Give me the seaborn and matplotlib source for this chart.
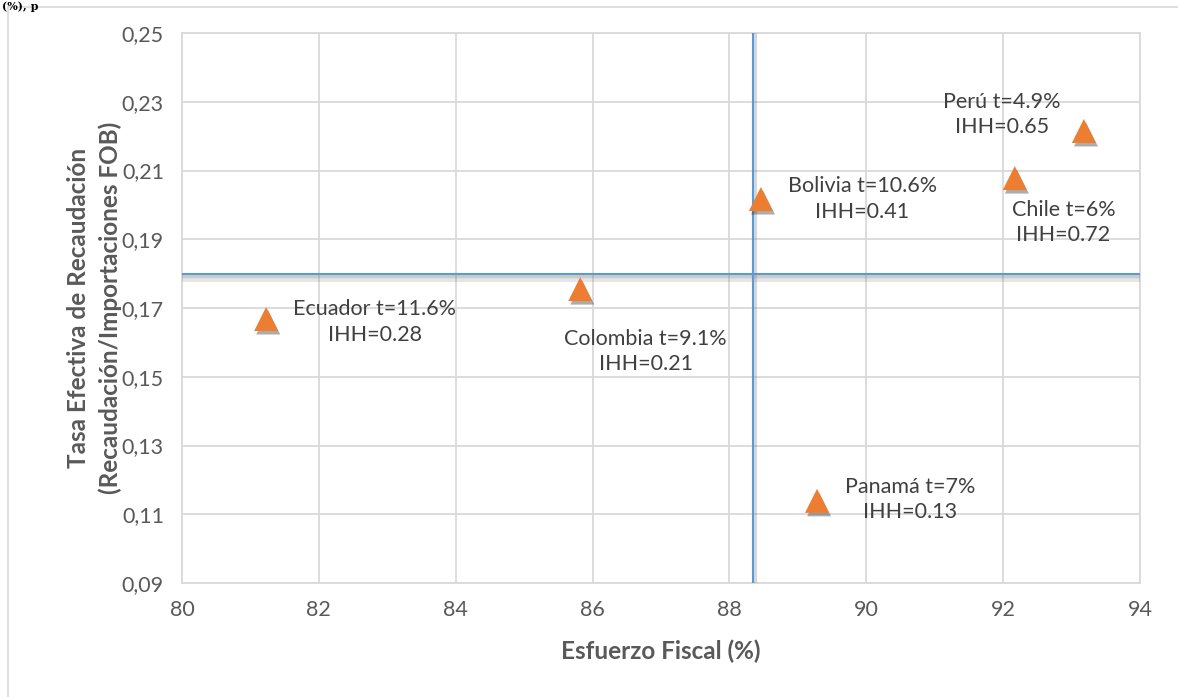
import matplotlib
matplotlib.use("Agg")
import matplotlib.pyplot as plt
import matplotlib.patheffects as pe
from matplotlib.patches import Rectangle
from matplotlib.ticker import FixedLocator, FuncFormatter
import pandas as pd
import seaborn as sns

# Country data: fiscal effort (%) vs effective collection rate
paises = ["Ecuador", "Colombia", "Bolivia", "Chile", "Perú", "Panamá"]
esfuerzo_fiscal = [81.23, 85.82, 88.46, 92.17, 93.18, 89.28]
tasa_efectiva = [0.1668, 0.1755, 0.2017, 0.2078, 0.2215, 0.1139]
etiquetas = [
    "Ecuador t=11.6%\nIHH=0.28",
    "Colombia t=9.1%\nIHH=0.21",
    "Bolivia t=10.6%\nIHH=0.41",
    "Chile t=6%\nIHH=0.72",
    "Perú t=4.9%\nIHH=0.65",
    "Panamá t=7%\nIHH=0.13",
]
# label offsets from each marker (points)
desplazamientos = [(78, -2), (47, -45), (73, 0), (35, -32), (-59, 12), (67, 1)]

# reference lines (averages)
promedio_x = 88.34
promedio_y = 0.18

x_ticks = [80, 82, 84, 86, 88, 90, 92, 94]
y_ticks = [0.09, 0.11, 0.13, 0.15, 0.17, 0.19, 0.21, 0.23, 0.25]

df = pd.DataFrame({"pais": paises, "x": esfuerzo_fiscal, "y": tasa_efectiva})

sns.set_theme(style="white")
plt.rcParams["font.family"] = ["Lato", "DejaVu Sans"]

fig = plt.figure(figsize=(11.78, 6.97), dpi=100)
ax = fig.add_axes([182 / 1178, 1 - 583 / 697, (1140 - 182) / 1178, (583 - 33) / 697])

grid_col = "#D9D9D9"
ax.set_xlim(80, 94)
ax.set_ylim(0.09, 0.25)
ax.xaxis.set_major_locator(FixedLocator(x_ticks))
ax.yaxis.set_major_locator(FixedLocator(y_ticks))
ax.yaxis.set_major_formatter(FuncFormatter(lambda v, p: f"{v:.2f}".replace(".", ",")))
ax.xaxis.set_major_formatter(FuncFormatter(lambda v, p: f"{v:.0f}"))
ax.grid(True, color=grid_col, linewidth=1.3)
for s in ax.spines.values():
    s.set_color(grid_col)
    s.set_linewidth(1.3)
ax.tick_params(axis="x", length=0, labelsize=15.5, labelcolor="#595959", pad=12)
ax.tick_params(axis="y", length=0, labelsize=15.5, labelcolor="#595959", pad=13)

# average lines with a soft shadow
ax.axhline(promedio_y, color="#5B9BD5", linewidth=1.5,
           path_effects=[pe.SimpleLineShadow(offset=(0, -3), shadow_color="#808080", alpha=0.2, linewidth=5),
                         pe.SimpleLineShadow(offset=(0, -2), shadow_color="#808080", alpha=0.25, linewidth=2.5),
                         pe.Normal()],
           zorder=3)
ax.axvline(promedio_x, color="#5B9BD5", linewidth=1.5,
           path_effects=[pe.SimpleLineShadow(offset=(2, -1), shadow_color="#808080", alpha=0.3, linewidth=3), pe.Normal()],
           zorder=3)

sns.scatterplot(data=df, x="x", y="y", marker="^", s=300, color="#ED7D31",
                edgecolor="none", linewidth=0, ax=ax, zorder=4, legend=False)
for coll in ax.collections:
    coll.set_path_effects([pe.SimplePatchShadow(offset=(1.5, -2.5), shadow_rgbFace="#303030", alpha=0.4), pe.Normal()])

for xv, yv, txt, off in zip(esfuerzo_fiscal, tasa_efectiva, etiquetas, desplazamientos):
    ax.annotate(txt, (xv, yv), xytext=off, textcoords="offset points",
                ha="center", va="center", fontsize=15.5, color="#404040",
                linespacing=1.35, zorder=5)

ax.set_xlabel("Esfuerzo Fiscal (%)", fontsize=17.5, fontweight="bold", color="#595959", labelpad=14)
ax.set_ylabel("Tasa Efectiva de Recaudación\n(Recaudación/Importaciones FOB)", fontsize=17.5,
              fontweight="bold", color="#595959", labelpad=0, linespacing=1.4)

# chart frame
fig.patches.append(Rectangle((8 / 1178, -0.05), 1.2, 1 - 7 / 697 + 0.05, transform=fig.transFigure,
                             fill=False, edgecolor="#D9D9D9", linewidth=1.2))
fig.text(0.002, 0.999, "(%), p", fontsize=8, fontweight="bold", color="#000000",
         family=["DejaVu Serif"], ha="left", va="top")

fig.savefig("out.png", dpi=100)
